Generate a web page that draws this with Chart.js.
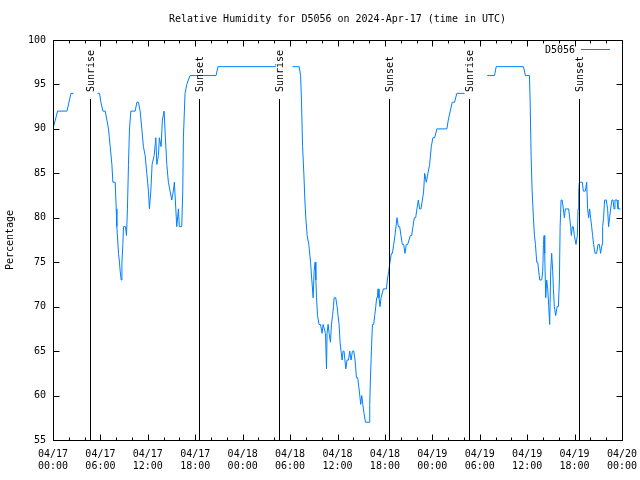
<!DOCTYPE html>
<html>
<head>
<meta charset="utf-8">
<title>Relative Humidity D5056</title>
<script src="https://cdn.jsdelivr.net/npm/chart.js@4.4.1/dist/chart.umd.min.js"></script>
<style>
  body { margin: 0; background: #fff; }
  canvas { display: block; }
</style>
</head>
<body>
<canvas id="chart" width="640" height="480"></canvas>
<script>
// hours since 04/17 00:00 UTC, null = no data
const hours = [
  0, 0.58, 1.77, 2.27, 2.6, 3.5,
  5.63, 5.89, 6.06, 6.32, 6.61, 6.82, 7.02, 7.24, 7.45, 7.58,
  7.87, 8.0, 8.08, 8.29, 8.41, 8.5, 8.63, 8.72, 8.84, 8.92,
  9.17, 9.3, 9.42, 9.55, 9.68, 9.85, 10.4, 10.61, 10.81, 11.03,
  11.24, 11.44, 11.66, 11.87, 12.08, 12.2, 12.38, 12.54, 12.8, 13.01,
  13.14, 13.34, 13.46, 13.68, 13.84, 14.06, 14.22, 14.4, 14.6, 14.82,
  15.03, 15.23, 15.36, 15.54, 15.66, 15.87, 15.99, 16.29, 16.42, 16.5,
  16.71, 16.93, 17.34, 20.63, 20.88, 28.2, 29.2,
  30.31, 31.15, 31.33, 31.45, 31.58, 31.74, 31.87, 31.99, 32.16, 32.37,
  32.59, 32.75, 32.92, 33.04, 33.17, 33.26, 33.35, 33.47, 33.67, 33.85,
  34.05, 34.18, 34.48, 34.61, 34.68, 34.81, 34.94, 35.11, 35.24, 35.37,
  35.49, 35.57, 35.78, 35.95, 36.07, 36.2, 36.33, 36.45, 36.58, 36.71,
  36.83, 37.05, 37.21, 37.39, 37.55, 37.72, 37.89, 38.06, 38.22, 38.4,
  38.56, 38.69, 38.82, 38.94, 39.07, 39.2, 39.36, 39.54, 39.99, 40.08,
  40.17, 40.29, 40.42, 40.58, 40.71, 40.84, 40.96, 41.05, 41.13, 41.25,
  41.38, 41.51, 41.81, 42.19, 42.31, 42.48, 42.64, 42.82, 42.95, 43.11,
  43.27, 43.4, 43.53, 43.7, 43.87, 44.03, 44.2, 44.37, 44.54, 44.71,
  44.88, 45.22, 45.38, 45.55, 45.72, 45.89, 46.05, 46.23, 46.39, 46.56,
  46.74, 46.9, 47.03, 47.24, 47.44, 47.66, 47.87, 48.07, 48.29, 48.58,
  49.84, 50.02, 50.27, 50.52, 50.81, 51.1, 52.08, 53.0,
  54.95, 55.87, 56.08, 59.53, 59.78, 60.29, 60.38, 60.5, 60.63, 60.79,
  60.92, 61.05, 61.21, 61.34, 61.46, 61.59, 61.84, 61.97, 62.06, 62.14,
  62.22, 62.35, 62.47, 62.6, 62.73, 62.85, 62.98, 63.1, 63.23, 63.32,
  63.44, 63.61, 63.79, 63.95, 64.08, 64.17, 64.29, 64.42, 64.58, 64.71,
  64.83, 65.0, 65.25, 65.38, 65.5, 65.59, 65.72, 65.84, 65.97, 66.18,
  66.35, 66.44, 66.52, 66.6, 66.73, 66.98, 67.11, 67.23, 67.36, 67.53,
  67.65, 67.78, 67.9, 68.03, 68.16, 68.28, 68.41, 68.59, 68.79, 68.97,
  69.13, 69.29, 69.47, 69.55, 69.67, 69.8, 70.01, 70.18, 70.3, 70.43,
  70.56, 70.73, 70.86, 70.99, 71.11, 71.24, 71.37, 71.49, 71.62, 71.82
];

const humidity = [
  90, 92, 92, 94, 94, null,
  94, 94, 93, 92, 92, 91, 90, 88, 86, 84,
  84, 81, 79, 76, 75, 74, 73, 75, 77, 79,
  79, 78, 81, 86, 90, 92, 92, 93, 93, 92,
  90, 88, 87, 85, 83, 81, 83, 86, 87, 89,
  86, 87, 89, 88, 91, 92, 89, 86, 84, 83,
  82, 83, 84, 81, 79, 81, 79, 79, 83, 89,
  94, 95, 96, 96, 97, 97, null,
  97, 97, 96, 93, 88, 85, 82, 80, 78, 77,
  75, 73, 71, 74, 75, 73, 71, 69, 68, 68,
  67, 68, 67, 63, 67, 68, 67, 66, 68, 69,
  70, 71, 71, 70, 69, 68, 66, 65, 64, 65,
  65, 63, 64, 64, 65, 64, 65, 65, 64, 62,
  62, 61, 60, 59, 60, 59, 58, 57, 57, 59,
  62, 65, 68, 68, 69, 70, 71, 71, 72, 71,
  70, 71, 72, 72, 73, 74, 75, 76, 76, 77,
  78, 79, 80, 79, 79, 78, 77, 77, 76, 77,
  77, 78, 78, 79, 80, 80, 81, 82, 81, 81,
  82, 83, 85, 84, 85, 86, 88, 89, 89, 90,
  90, 91, 92, 93, 93, 94, 94, null,
  96, 96, 97, 97, 96, 96, 93, 87, 83, 80,
  78, 77, 75, 75, 74, 73, 73, 74, 77, 78,
  76, 71, 73, 72, 70, 68, 74, 76, 74, 72,
  70, 69, 70, 70, 73, 79, 82, 82, 81, 80,
  81, 81, 81, 80, 79, 78, 79, 79, 78, 77,
  78, 81, 83, 84, 84, 84, 83, 83, 83, 84,
  81, 80, 81, 80, 79, 78, 77, 76, 76, 77,
  77, 76, 77, 79, 80, 82, 82, 81, 79, 80,
  81, 82, 82, 81, 82, 82, 82, 81, 81, 81
];

const eventLabels = ['Sunrise', 'Sunset', 'Sunrise', 'Sunset', 'Sunrise', 'Sunset'];
const eventHours = [4.71, 18.52, 28.63, 42.52, 52.6, 66.52];

const tickDates = ['04/17', '04/17', '04/17', '04/17', '04/18', '04/18', '04/18',
                   '04/18', '04/19', '04/19', '04/19', '04/19', '04/20'];
const tickTimes = ['00:00', '06:00', '12:00', '18:00', '00:00', '06:00', '12:00',
                   '18:00', '00:00', '06:00', '12:00', '18:00', '00:00'];

const FONT = '"DejaVu Sans Mono", "Liberation Mono", monospace';
const LINE_COLOR = 'rgb(0, 128, 255)';

let points = [];
hours.forEach(function(h, i) {
    points.push({ x: h, y: humidity[i] });
});

function seg(ctx, x1, y1, x2, y2) {
    ctx.beginPath();
    ctx.moveTo(x1, y1);
    ctx.lineTo(x2, y2);
    ctx.stroke();
}

const gnuplotLook = {
    id: 'gnuplotLook',
    beforeDraw: function(chart) {
        const ctx = chart.ctx;
        ctx.save();
        ctx.fillStyle = '#fff';
        ctx.fillRect(0, 0, chart.width, chart.height);
        ctx.restore();
    },
    afterDatasetsDraw: function(chart) {
        const ctx = chart.ctx;
        const a = chart.chartArea;
        const xs = chart.scales.x;
        const ys = chart.scales.y;
        const L = Math.round(a.left) + 0.5, R = Math.round(a.right) + 0.5;
        const T = Math.round(a.top) + 0.5, B = Math.round(a.bottom) + 0.5;

        ctx.save();
        ctx.strokeStyle = '#000';
        ctx.fillStyle = '#000';
        ctx.lineWidth = 1;

        // sunrise / sunset markers
        const markTop = Math.round(ys.getPixelForValue(93.4));
        ctx.font = '10px ' + FONT;
        ctx.textAlign = 'left';
        ctx.textBaseline = 'middle';
        eventHours.forEach(function(h, i) {
            const x = Math.round(xs.getPixelForValue(h)) + 0.5;
            seg(ctx, x, B, x, markTop);
            ctx.save();
            ctx.translate(x + 1, markTop - 7);
            ctx.rotate(-Math.PI / 2);
            ctx.fillText(eventLabels[i], 0, 0);
            ctx.restore();
        });

        // frame
        ctx.strokeRect(L, T, R - L, B - T);

        // ticks, pointing inward, on all four sides
        ys.ticks.forEach(function(t) {
            const y = Math.round(ys.getPixelForValue(t.value)) + 0.5;
            seg(ctx, L, y, L + 6, y);
            seg(ctx, R - 6, y, R, y);
        });
        xs.ticks.forEach(function(t) {
            const x = Math.round(xs.getPixelForValue(t.value)) + 0.5;
            const len = (t.value % 6 === 0) ? 6 : 3;
            seg(ctx, x, B, x, B - len);
            seg(ctx, x, T, x, T + len);
        });

        // title
        ctx.textAlign = 'center';
        ctx.fillText('Relative Humidity for D5056 on 2024-Apr-17 (time in UTC)', (a.left + a.right) / 2, 19);

        // key
        ctx.textAlign = 'right';
        ctx.fillText('D5056', 575, 50);
        ctx.strokeStyle = LINE_COLOR;
        seg(ctx, 581, 49.5, 610, 49.5);

        ctx.restore();
    }
};

Chart.defaults.font.family = FONT;
Chart.defaults.font.size = 10;
Chart.defaults.color = '#000';

window.humidityChart = new Chart(document.getElementById('chart'), {
    type: 'line',
    data: {
        datasets: [{
            label: 'D5056',
            data: points,
            borderColor: LINE_COLOR,
            backgroundColor: LINE_COLOR,
            borderWidth: 1,
            pointRadius: 0,
            tension: 0,
            spanGaps: false
        }]
    },
    options: {
        responsive: false,
        animation: false,
        devicePixelRatio: 1,
        parsing: false,
        layout: { padding: { top: 40, right: 18, left: 0, bottom: 0 } },
        plugins: {
            legend: { display: false },
            title: { display: false },
            tooltip: { enabled: false }
        },
        scales: {
            x: {
                type: 'linear',
                min: 0,
                max: 72,
                grid: { display: false, drawTicks: false },
                border: { display: false },
                ticks: {
                    stepSize: 2,
                    autoSkip: false,
                    maxRotation: 0,
                    padding: 8,
                    font: { size: 10, lineHeight: 1.2 },
                    callback: function(value) {
                        if (value % 6 !== 0) {
                            return '';
                        }
                        return [tickDates[value / 6], tickTimes[value / 6]];
                    }
                },
                afterFit: function(scale) {
                    scale.height = 40;
                    scale.paddingLeft = 0;
                    scale.paddingRight = 0;
                }
            },
            y: {
                min: 55,
                max: 100,
                grid: { display: false, drawTicks: false },
                border: { display: false },
                ticks: { stepSize: 5, padding: 7 },
                title: {
                    display: true,
                    text: 'Percentage',
                    padding: { top: 4, bottom: 0 },
                    font: { size: 10, lineHeight: 1.2 }
                },
                afterFit: function(scale) {
                    scale.width = 53;
                    scale.paddingTop = 0;
                    scale.paddingBottom = 0;
                }
            }
        }
    },
    plugins: [gnuplotLook]
});
</script>
</body>
</html>
